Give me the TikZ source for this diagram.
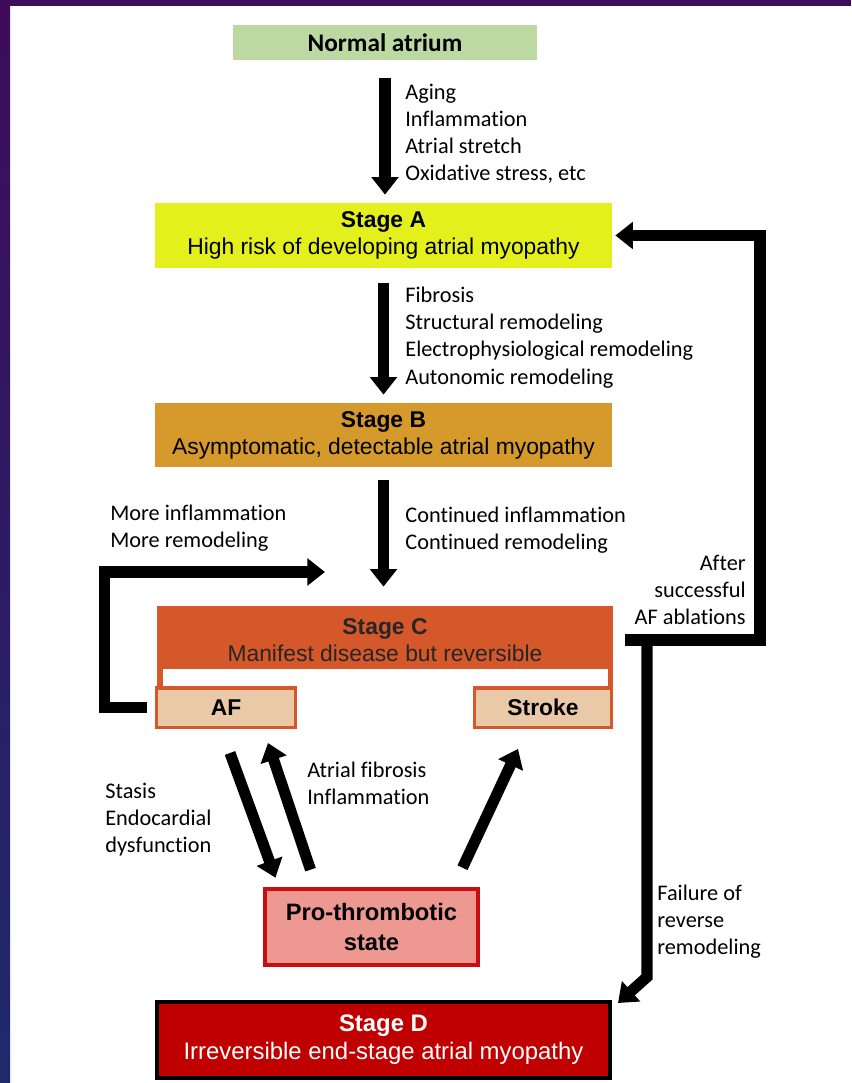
\documentclass[tikz,border=0pt]{standalone}
\usepackage{fontspec}
\setmainfont{Liberation Sans}
\newfontfamily\calfont[Ligatures=NoCommon]{Carlito}
\usetikzlibrary{arrows.meta, positioning}

\definecolor{bgPurple}{RGB}{62,12,90}
\definecolor{bgBlue}{RGB}{30,42,108}
\definecolor{normGreen}{RGB}{188,216,163}
\definecolor{stageAcol}{RGB}{228,240,28}
\definecolor{stageBcol}{RGB}{214,154,44}
\definecolor{stageCcol}{RGB}{212,88,42}
\definecolor{afFill}{RGB}{233,201,168}
\definecolor{proFill}{RGB}{238,152,146}
\definecolor{proLine}{RGB}{204,12,16}
\definecolor{stageDcol}{RGB}{192,0,0}

\tikzset{
  stagebox/.style={rectangle, minimum width=91.4mm, minimum height=13mm, align=center,
    inner sep=0pt, font=\fontsize{13}{15.4}\selectfont},
  subbox/.style={rectangle, draw=stageCcol, line width=2pt, fill=afFill, minimum width=27.8mm,
    minimum height=7.9mm, inner sep=0pt, font=\bfseries\fontsize{13}{15.4}\selectfont},
  bigarrow/.style={line width=6.3pt, -{Triangle[width=15pt,length=10pt]}},
  note/.style={align=left, inner sep=0pt, font=\calfont\fontsize{12.7}{15.4}\selectfont}
}

\begin{document}
\begin{tikzpicture}[x=0.2mm, y=-0.2mm]
        \useasboundingbox (0,0) rectangle (851,1083);
        \fill[white] (0,0) rectangle (851,1083);
        \shade[top color=bgPurple, bottom color=bgBlue] (0,0) rectangle (10,1083);
        \fill[bgPurple] (0,0) rectangle (851,6);

        \node[rectangle, fill=normGreen, minimum width=60.8mm, minimum height=7mm,
            font=\calfont\bfseries\fontsize{14.4}{17}\selectfont] (normal) at (385,42.5) {Normal atrium};
        \node[stagebox, fill=stageAcol] (stageA) at (383.5,235.5) {\textbf{Stage A}\\High risk of developing atrial myopathy};
        \node[stagebox, fill=stageBcol, minimum height=12.8mm] (stageB) at (383.5,435) {\textbf{Stage B}\\Asymptomatic, detectable atrial myopathy};
        \node[stagebox, fill=stageCcol, minimum width=91.2mm, minimum height=13.6mm, text=black!85] (stageC) at (385,640) {\textbf{Stage C}\\Manifest disease but reversible};
        \fill[stageCcol] (157,667) rectangle (163,688);
        \fill[stageCcol] (608,667) rectangle (613,688);
        \fill[white] (163,669) rectangle (608,688);
        \node[subbox] (af) at (226,707.5) {AF};
        \node[subbox, minimum width=27.4mm] (stroke) at (543,707.5) {Stroke};
        \node[rectangle, draw=proLine, line width=2.6pt, fill=proFill, minimum width=42.6mm, minimum height=15.2mm,
            align=center, font=\bfseries\fontsize{13.5}{17}\selectfont] (pro) at (371.5,927) {Pro-thrombotic\\state};
        \node[stagebox, draw=black, line width=2.3pt, fill=stageDcol, text=white, minimum width=90.6mm,
            minimum height=15.2mm, font=\fontsize{13.6}{16}\selectfont] (stageD) at (383.5,1040) {\textbf{Stage D}\\Irreversible end-stage atrial myopathy};

        \node[note, anchor=north west] (lblAging) at (405,84) {Aging\\Inflammation\\Atrial stretch\\Oxidative stress, etc};
        \node[note, anchor=north west] (lblFibrosis) at (405,287) {Fibrosis\\Structural remodeling\\Electrophysiological remodeling\\Autonomic remodeling};
        \node[note, anchor=north west] (lblContinued) at (405,507) {Continued inflammation\\Continued remodeling};
        \node[note, anchor=north west] (lblMore) at (110,505) {More inflammation\\More remodeling};
        \node[note, anchor=north east, align=right] (lblAblation) at (746,555) {After\\successful\\AF ablations};
        \node[note, anchor=north west] (lblStasis) at (105,783) {Stasis\\Endocardial\\dysfunction};
        \node[note, anchor=north west] (lblFibInfl) at (307,762) {Atrial fibrosis\\Inflammation};
        \node[note, anchor=north west] (lblFailure) at (657,885) {Failure of\\reverse\\remodeling};

        \coordinate (moreTip) at (325,572);
        \coordinate (ablStart) at (625,640);
        \coordinate (junc) at (647,640);

        \draw[bigarrow, shorten <=3.6mm, shorten >=1.6mm] (normal.south) to (normal.south |- stageA.north);
        \draw[bigarrow, shorten <=3mm, shorten >=1.6mm] (stageA.south) to (stageA.south |- stageB.north);
        \draw[bigarrow, shorten <=2.6mm, shorten >=3.8mm] (stageB.south) to (stageB.south |- stageC.north);

        \draw[bigarrow, shorten <=1.6mm] (af.west) -- ++(-50,0) |- (moreTip);
        \draw[bigarrow, shorten >=0.6mm] (ablStart) -- ++(135,0) |- (stageA.east);
        \draw[bigarrow] (junc) -- ++(0,337) -- ([shift={(6,3)}]stageD.north east);

        \draw[bigarrow] ([shift={(4,24)}]af.south) to ([shift={(-96,-9)}]pro.north);
        \draw[bigarrow] ([shift={(-61,-17)}]pro.north) to ([shift={(42,14)}]af.south);
        \draw[bigarrow] ([shift={(91,-19)}]pro.north) to ([shift={(-25,20)}]stroke.south);
    \end{tikzpicture}
\end{document}
